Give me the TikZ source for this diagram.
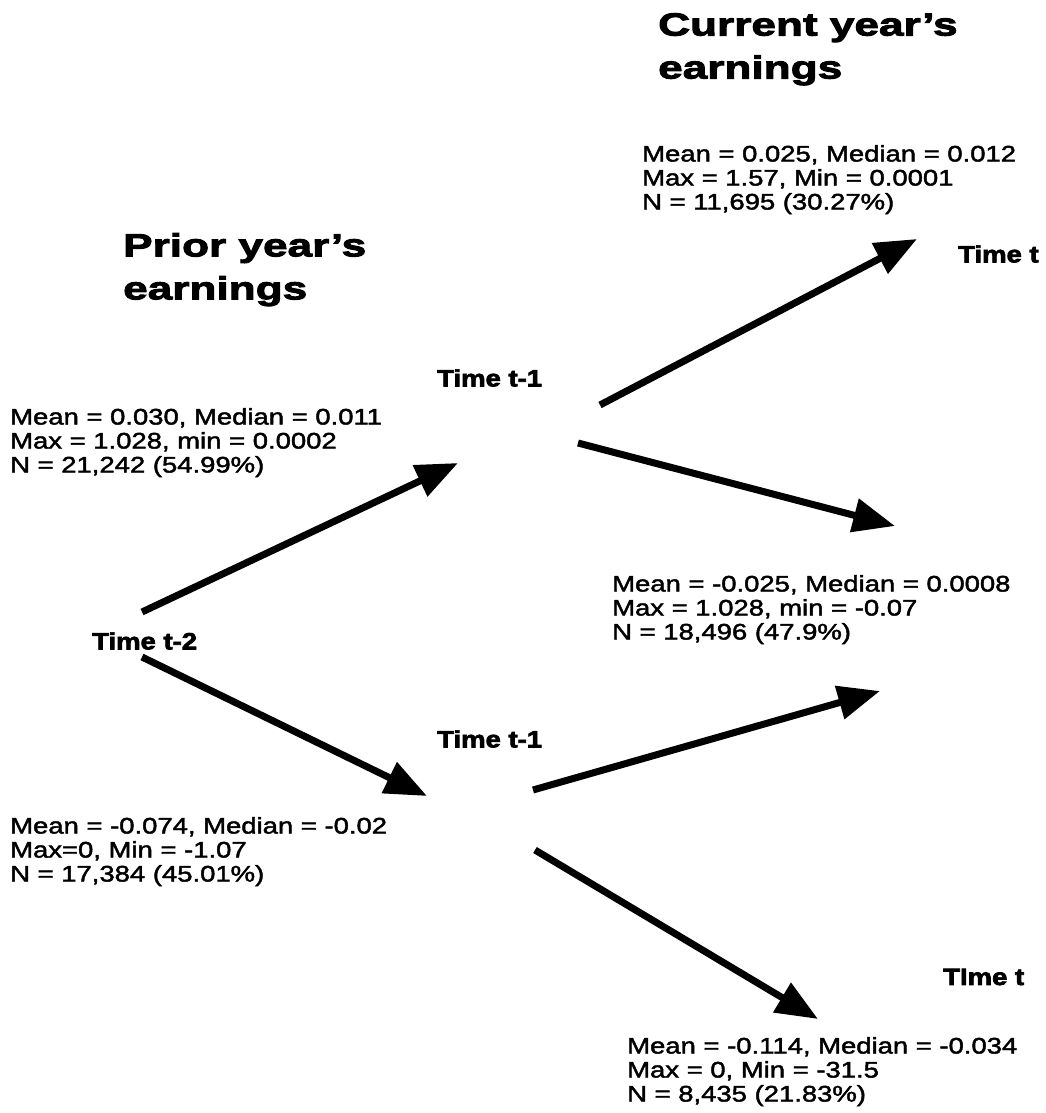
\documentclass[tikz,border=0pt]{standalone}
\usepackage{fontspec}
\setmainfont{Liberation Sans}
\newfontfamily\bodyfont[FakeStretch=1.22,FakeBold=2]{Liberation Sans}
\newfontfamily\headfont[FakeStretch=1.38,FakeBold=3]{Liberation Sans}
\newfontfamily\timefont[FakeStretch=1.17,FakeBold=3]{Liberation Sans}
\usetikzlibrary{arrows.meta}
\begin{document}
\begin{tikzpicture}[x=1pt,y=-1pt,
  stat/.style={anchor=north west, inner sep=0pt, align=left, font=\bodyfont\fontsize{22.5}{24}\selectfont},
  heading/.style={anchor=north west, inner sep=0pt, align=left, font=\headfont\bfseries\fontsize{32}{43}\selectfont},
  timelabel/.style={anchor=west, inner sep=0pt, font=\timefont\bfseries\fontsize{23.5}{26}\selectfont},
  branch/.style={line width=7pt, -{Triangle[length=42pt,width=33pt]}}]
\useasboundingbox[fill=white] (0,0) rectangle (1045,1113);

% headings
\node[heading] (cur) at (658,13) {Current year’s\\earnings};
\node[heading] (prior) at (123,233) {Prior year’s\\earnings};

% time labels
\node[timelabel] (tm2) at (92,641) {Time t-2};
\node[timelabel] (tm1a) at (437,378) {Time t-1};
\node[timelabel] (tm1b) at (437,739) {Time t-1};
\node[timelabel] (tta) at (958,254) {Time t};
\node[timelabel] (ttb) at (943,977) {TIme t};

% statistics
\node[stat] (sA) at (10,408) {Mean = 0.030, Median = 0.011\\Max = 1.028, min = 0.0002\\N = 21,242 (54.99\%)};
\node[stat] (sB) at (642,145) {Mean = 0.025, Median = 0.012\\Max = 1.57, Min = 0.0001\\N = 11,695 (30.27\%)};
\node[stat] (sC) at (612,575) {Mean = -0.025, Median = 0.0008\\Max = 1.028, min = -0.07\\N = 18,496 (47.9\%)};
\node[stat] (sD) at (10,817) {Mean = -0.074, Median = -0.02\\Max=0, Min = -1.07\\N = 17,384 (45.01\%)};
\node[stat] (sE) at (627,1037) {Mean = -0.114, Median = -0.034\\Max = 0, Min = -31.5\\N = 8,435 (21.83\%)};

% arrow end points
\coordinate (a1s) at (142,612);
\coordinate (a1e) at (458,463);
\coordinate (a2s) at (142,657);
\coordinate (a2e) at (427,796);
\coordinate (a3s) at (600,405);
\coordinate (a3e) at (917,239);
\coordinate (a4s) at (578,443);
\coordinate (a4e) at (895,526);
\coordinate (a5s) at (533,790);
\coordinate (a5e) at (880,691);
\coordinate (a6s) at (535,850);
\coordinate (a6e) at (818,1019);

\draw[branch] (a1s) -- (a1e);
\draw[branch] (a2s) -- (a2e);
\draw[branch] (a3s) -- (a3e);
\draw[branch] (a4s) -- (a4e);
\draw[branch] (a5s) -- (a5e);
\draw[branch] (a6s) -- (a6e);
\end{tikzpicture}
\end{document}
